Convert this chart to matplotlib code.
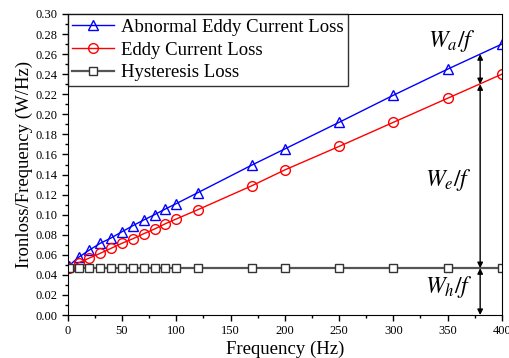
import numpy as np
import matplotlib.pyplot as plt

plt.rcParams["font.family"] = "Liberation Serif"
plt.rcParams["mathtext.fontset"] = "stix"

# data
freq = [1, 10, 20, 30, 40, 50, 60, 70, 80, 90, 100, 120, 170, 200, 250, 300, 350, 400]
abnormal = [0.049, 0.0575, 0.0648, 0.0715, 0.0768, 0.083, 0.089, 0.0947, 0.100, 0.1057,
            0.111, 0.122, 0.1496, 0.1655, 0.192, 0.219, 0.245, 0.270]
eddy = [0.047, 0.052, 0.0568, 0.0615, 0.0665, 0.0715, 0.076, 0.081, 0.0857, 0.091,
        0.0957, 0.105, 0.129, 0.1446, 0.168, 0.192, 0.216, 0.240]
hyst = [0.0467] * len(freq)

arrow_f = 380
levels = [0, 0.0467, 0.230, 0.260]

fig = plt.figure(figsize=(5.09, 3.58), dpi=100)
ax = fig.add_axes([0.133, 0.12, 0.853, 0.841])

ax.plot(freq, abnormal, color="blue", lw=1, marker="^", ms=7, mfc="none",
        mew=1, label="Abnormal Eddy Current Loss")
ax.plot(freq, eddy, color="red", lw=1, marker="o", ms=7, mfc="none",
        mew=1, label="Eddy Current Loss")
ax.plot(freq, hyst, color="#555555", lw=1.6, marker="s", ms=6, mfc="white",
        mec="#333333", mew=1, label="Hysteresis Loss")

# double arrows for the loss components
for lo, hi in zip(levels[:-1], levels[1:]):
    ax.annotate("", xy=(arrow_f, hi), xytext=(arrow_f, lo),
                arrowprops=dict(arrowstyle="<|-|>", color="black", lw=1,
                                mutation_scale=8, shrinkA=0, shrinkB=0))

ax.text(354, 0.273, r"$W_{a}/f$", fontsize=17, ha="center", va="center")
ax.text(351, 0.135, r"$W_{e}/f$", fontsize=17, ha="center", va="center")
ax.text(351, 0.028, r"$W_{h}/f$", fontsize=17, ha="center", va="center")

ax.set_xlim(0, 400)
ax.set_ylim(0, 0.30)
ax.set_xticks(np.arange(0, 401, 50))
ax.set_xticks(np.arange(25, 400, 50), minor=True)
ax.set_yticks(np.arange(0, 0.301, 0.02))
ax.set_yticks(np.arange(0.01, 0.30, 0.02), minor=True)
ax.yaxis.set_major_formatter(plt.FormatStrFormatter("%.2f"))
ax.tick_params(labelsize=9, length=4, width=1)
ax.tick_params(which="minor", length=2.5, width=1)

ax.set_xlabel("Frequency (Hz)", fontsize=13.5, labelpad=2)
ax.set_ylabel("Ironloss/Frequency (W/Hz)", fontsize=13.5, labelpad=2)

leg = ax.legend(loc="upper left", fontsize=13.5, frameon=True, fancybox=False,
                borderaxespad=0, handlelength=2.2, borderpad=0.25,
                labelspacing=0.3, handletextpad=0.4)
leg.get_frame().set_edgecolor("black")
leg.get_frame().set_linewidth(1)

plt.savefig("out.png", dpi=100)
